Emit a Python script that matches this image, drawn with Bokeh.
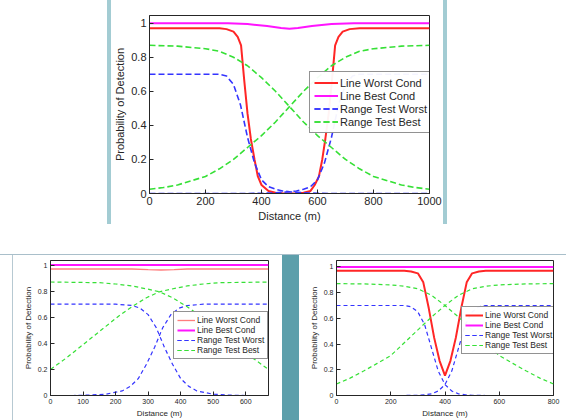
from bokeh.plotting import figure
from bokeh.models import Range1d, FixedTicker, Legend, LegendItem, Spacer
from bokeh.layouts import row, column
from bokeh.embed import file_html
from bokeh.resources import INLINE

# ---------------- data ----------------
legend_labels = ["Line Worst Cond", "Line Best Cond", "Range Test Worst", "Range Test Best"]
y_ticks = [0, 0.2, 0.4, 0.6, 0.8, 1.0]

# top plot (0..1000 m)
top_x_ticks = [0, 200, 400, 600, 800, 1000]
top_red_x = [0, 250, 275, 300, 315, 327, 338, 350, 362, 375, 387, 400, 425, 450, 475, 500,
             525, 550, 575, 590, 605, 617, 628, 640, 652, 663, 675, 690, 715, 750, 1000]
top_red_y = [0.97, 0.97, 0.965, 0.95, 0.92, 0.87, 0.67, 0.47, 0.32, 0.2, 0.1, 0.05, 0.015, 0.004, 0.001, 0.0,
             0.001, 0.004, 0.015, 0.05, 0.1, 0.2, 0.32, 0.47, 0.67, 0.87, 0.92, 0.95, 0.965, 0.97, 0.97]
top_mag_x = [0, 280, 350, 420, 470, 500, 530, 580, 650, 730, 1000]
top_mag_y = [1.0, 1.0, 0.995, 0.983, 0.972, 0.967, 0.972, 0.983, 0.995, 1.0, 1.0]
top_blue1_x = [0, 250, 275, 300, 325, 350, 375, 400, 425, 450, 475, 500, 550, 600, 650, 1000]
top_blue1_y = [0.70, 0.70, 0.69, 0.64, 0.52, 0.33, 0.18, 0.08, 0.04, 0.025, 0.015, 0.01, 0.004, 0.001, 0.0, 0.0]
top_blue2_x = [0, 350, 400, 450, 500, 525, 550, 575, 600, 625, 650, 675, 700, 725, 750, 1000]
top_blue2_y = [0.0, 0.0, 0.001, 0.004, 0.01, 0.015, 0.025, 0.04, 0.08, 0.18, 0.33, 0.52, 0.64, 0.69, 0.70, 0.70]
top_green1_x = [0, 100, 200, 250, 300, 350, 400, 450, 500, 550, 600, 650, 700, 750, 800, 850, 900, 950, 1000]
top_green1_y = [0.87, 0.865, 0.85, 0.835, 0.80, 0.75, 0.68, 0.60, 0.51, 0.42, 0.34, 0.27, 0.20, 0.145, 0.10,
                0.075, 0.05, 0.035, 0.025]
top_green2_x = [0, 50, 100, 150, 200, 250, 300, 350, 400, 450, 500, 550, 600, 650, 700, 750, 800, 900, 1000]
top_green2_y = [0.025, 0.035, 0.05, 0.075, 0.10, 0.145, 0.20, 0.27, 0.34, 0.42, 0.51, 0.60, 0.68, 0.75, 0.80,
                0.835, 0.85, 0.865, 0.87]

# bottom-left plot (0..670 m)
bl_x_ticks = [0, 100, 200, 300, 400, 500, 600]
bl_red_x = [0, 250, 300, 340, 380, 420, 670]
bl_red_y = [0.97, 0.97, 0.965, 0.962, 0.965, 0.97, 0.97]
bl_mag_x = [0, 670]
bl_mag_y = [1.0, 1.0]
bl_blue1_x = [0, 200, 250, 275, 300, 325, 350, 375, 400, 425, 450, 500, 550, 600, 670]
bl_blue1_y = [0.70, 0.70, 0.69, 0.67, 0.62, 0.52, 0.37, 0.24, 0.13, 0.07, 0.035, 0.01, 0.003, 0.0, 0.0]
bl_blue2_x = [0, 70, 120, 170, 220, 245, 270, 295, 320, 345, 370, 395, 420, 470, 670]
bl_blue2_y = [0.0, 0.0, 0.003, 0.01, 0.035, 0.07, 0.13, 0.24, 0.37, 0.52, 0.62, 0.67, 0.69, 0.70, 0.70]
bl_green1_x = [0, 150, 200, 250, 300, 335, 375, 420, 460, 500, 540, 580, 620, 670]
bl_green1_y = [0.87, 0.865, 0.855, 0.84, 0.815, 0.795, 0.75, 0.68, 0.61, 0.53, 0.45, 0.37, 0.29, 0.20]
bl_green2_x = [0, 50, 90, 130, 170, 210, 250, 295, 335, 370, 420, 470, 520, 670]
bl_green2_y = [0.20, 0.29, 0.37, 0.45, 0.53, 0.61, 0.68, 0.75, 0.795, 0.815, 0.84, 0.855, 0.865, 0.87]

# bottom-right plot (0..800 m)
br_x_ticks = [0, 200, 400, 600, 800]
br_red_x = [0, 250, 275, 300, 320, 340, 360, 380, 400, 420, 440, 460, 480, 500, 525, 550, 800]
br_red_y = [0.97, 0.97, 0.965, 0.95, 0.88, 0.68, 0.45, 0.27, 0.155, 0.27, 0.45, 0.68, 0.88, 0.95, 0.965, 0.97, 0.97]
br_mag_x = [0, 800]
br_mag_y = [1.0, 1.0]
br_blue1_x = [0, 250, 275, 300, 325, 350, 375, 400, 425, 450, 475, 500, 550, 800]
br_blue1_y = [0.70, 0.70, 0.69, 0.65, 0.55, 0.37, 0.19, 0.085, 0.035, 0.013, 0.005, 0.002, 0.0, 0.0]
br_blue2_x = [0, 250, 300, 325, 350, 375, 400, 425, 450, 475, 500, 525, 550, 800]
br_blue2_y = [0.0, 0.0, 0.002, 0.005, 0.013, 0.035, 0.085, 0.19, 0.37, 0.55, 0.65, 0.69, 0.70, 0.70]
br_green1_x = [0, 100, 200, 250, 300, 350, 400, 450, 500, 550, 600, 650, 700, 750, 800]
br_green1_y = [0.87, 0.868, 0.86, 0.85, 0.83, 0.78, 0.70, 0.61, 0.51, 0.41, 0.31, 0.25, 0.19, 0.135, 0.09]
br_green2_x = [0, 50, 100, 150, 200, 250, 300, 350, 400, 450, 500, 550, 600, 700, 800]
br_green2_y = [0.09, 0.135, 0.19, 0.25, 0.31, 0.41, 0.51, 0.61, 0.70, 0.78, 0.83, 0.85, 0.86, 0.868, 0.87]

# ---------------- style ----------------
FONT = "Liberation Sans"
RED = "#ff2626"
MAG = "#ff14ff"
BLUE = "#3434ff"
GREEN = "#36e036"
INK = "#262626"
TEAL_LIGHT = "#a3ccd3"
TEAL = "#5d9fab"


def make_fig(width, height, xmax, ymax, xticks, borders, fs_tick, fs_label):
    p = figure(width=width, height=height, x_range=Range1d(0, xmax), y_range=Range1d(0, ymax),
               output_backend="svg", toolbar_location=None,
               min_border_left=borders[0], min_border_right=borders[1],
               min_border_top=borders[2], min_border_bottom=borders[3])
    p.grid.visible = False
    p.outline_line_color = INK
    p.outline_line_width = 1
    p.background_fill_color = "white"
    p.border_fill_color = "white"
    for ax, ticks in ((p.xaxis[0], xticks), (p.yaxis[0], y_ticks)):
        ax.ticker = FixedTicker(ticks=ticks)
        ax.major_tick_in = 4
        ax.major_tick_out = 0
        ax.minor_tick_line_color = None
        ax.axis_line_color = INK
        ax.major_tick_line_color = INK
        ax.major_label_text_font = FONT
        ax.major_label_text_font_size = fs_tick
        ax.major_label_text_color = INK
        ax.major_label_standoff = 3
        ax.axis_label_text_font = FONT
        ax.axis_label_text_font_size = fs_label
        ax.axis_label_text_font_style = "normal"
        ax.axis_label_text_color = INK
        ax.axis_label_standoff = 2
    p.yaxis[0].major_label_overrides = {0: "0", 1: "1"}
    p.xaxis[0].axis_label = "Distance (m)"
    p.yaxis[0].axis_label = "Probability of Detection"
    return p


def add_series(p, series, widths, dash, legend_loc, fs_leg, glyph_w, row_h, pad, red_alpha=1.0):
    items = []
    colors = [RED, MAG, BLUE, GREEN]
    for i, (label, curves) in enumerate(zip(legend_labels, series)):
        rs = []
        for xs, ys in curves:
            kw = dict(line_color=colors[i], line_width=widths[i])
            if i >= 2:
                kw["line_dash"] = dash
            if i == 0:
                kw["line_alpha"] = red_alpha
            rs.append(p.line(xs, ys, **kw))
        items.append(LegendItem(label=label, renderers=rs))
    leg = Legend(items=items, location=legend_loc, background_fill_color="white",
                 border_line_color=INK, border_line_width=1,
                 label_text_font=FONT, label_text_font_size=fs_leg, label_text_color=INK,
                 glyph_width=glyph_w, glyph_height=row_h, label_height=row_h,
                 label_standoff=2, padding=pad, spacing=0, margin=0)
    p.add_layout(leg)


# top plot
p_top = make_fig(332, 224, 1000, 1.045, top_x_ticks, (37, 14, 15, 31), "11px", "11px")
add_series(p_top,
           [[(top_red_x, top_red_y)], [(top_mag_x, top_mag_y)],
            [(top_blue1_x, top_blue1_y), (top_blue2_x, top_blue2_y)],
            [(top_green1_x, top_green1_y), (top_green2_x, top_green2_y)]],
           [2, 2, 1.6, 1.6], "6 3", (160, 60), "11px", 24, 13, 4)

# bottom-left plot
p_bl = make_fig(269, 165, 670, 1.035, bl_x_ticks, (37, 14, 5, 22), "7px", "8px")
add_series(p_bl,
           [[(bl_red_x, bl_red_y)], [(bl_mag_x, bl_mag_y)],
            [(bl_blue1_x, bl_blue1_y), (bl_blue2_x, bl_blue2_y)],
            [(bl_green1_x, bl_green1_y), (bl_green2_x, bl_green2_y)]],
           [1.3, 2, 1.2, 1.2], "4 3", (123, 36), "8.5px", 18, 10, 3, red_alpha=0.6)

# bottom-right plot
p_br = make_fig(267, 165, 800, 1.05, br_x_ticks, (37, 13, 5, 22), "7px", "8px")
add_series(p_br,
           [[(br_red_x, br_red_y)], [(br_mag_x, br_mag_y)],
            [(br_blue1_x, br_blue1_y), (br_blue2_x, br_blue2_y)],
            [(br_green1_x, br_green1_y), (br_green2_x, br_green2_y)]],
           [2, 2, 1.2, 1.2], "4 3", (125, 41), "8.5px", 18, 10, 3)

top_row = row(Spacer(width=107, height=224),
              Spacer(width=4, height=224, styles={"background-color": TEAL_LIGHT}),
              p_top,
              Spacer(width=4, height=224, styles={"background-color": TEAL_LIGHT}))
bottom_row = row(Spacer(width=12, height=165),
                 Spacer(width=1, height=165, styles={"background-color": "#b7c9d2"}),
                 p_bl,
                 Spacer(width=17, height=165, styles={"background-color": TEAL}),
                 p_br)
layout = column(top_row,
                Spacer(width=566, height=30),
                Spacer(width=566, height=1, styles={"background-color": "#a9bfca"}),
                bottom_row)

open("out.html", "w").write(file_html(layout, INLINE))
